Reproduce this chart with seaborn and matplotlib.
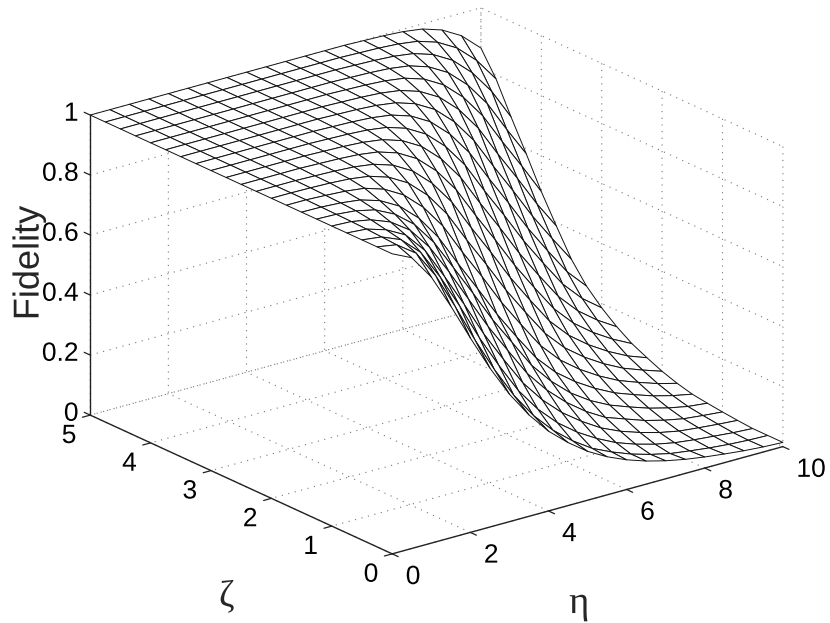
import matplotlib
matplotlib.use("Agg")
import matplotlib.pyplot as plt
import matplotlib.patheffects as pe
import numpy as np
import seaborn as sns

sns.set_style("white")
plt.rcParams["font.family"] = ["Liberation Sans", "DejaVu Sans"]
plt.rcParams["xtick.bottom"] = True
plt.rcParams["ytick.left"] = True

eta_values = [0, .5, 1, 1.5, 2, 2.5, 3, 3.5, 4, 4.5, 5, 5.5, 6, 6.5, 7, 7.5, 8, 8.5, 9, 9.5, 10]
zeta_values = [0, .25, .5, .75, 1, 1.25, 1.5, 1.75, 2, 2.25, 2.5, 2.75, 3, 3.25, 3.5, 3.75, 4, 4.25, 4.5, 4.75, 5]

# Fidelity along eta, one list per zeta
f_z000 = [1, .969, .887, .772, .648, .53, .425, .338, .266, .21, .163, .127, .099, .077, .06, .047, .037, .029, .022, .017, .014]
f_z025 = [1, .989, .943, .85, .729, .601, .484, .38, .295, .228, .175, .132, .102, .077, .058, .043, .034, .026, .02, .016, .014]
f_z050 = [1, .992, .965, .905, .805, .69, .567, .457, .355, .275, .212, .163, .124, .092, .069, .051, .038, .03, .024, .018, .014]
f_z075 = [1, .995, .975, .94, .87, .765, .655, .539, .437, .34, .265, .205, .158, .118, .089, .067, .049, .036, .029, .023, .018]
f_z100 = [1, .997, .985, .96, .915, .84, .74, .631, .522, .425, .33, .257, .198, .15, .112, .089, .066, .049, .036, .029, .023]
f_z125 = [1, .998, .992, .977, .945, .893, .815, .713, .61, .504, .41, .316, .245, .188, .145, .112, .088, .066, .049, .036, .029]
f_z150 = [1, .999, .995, .987, .967, .931, .873, .791, .686, .585, .481, .388, .3, .234, .185, .145, .112, .088, .066, .049, .036]
f_z175 = [1, 1, .997, .993, .985, .964, .927, .868, .788, .683, .584, .48, .388, .3, .234, .185, .145, .112, .088, .066, .049]
f_z200 = [1, 1, .999, .997, .993, .984, .963, .926, .867, .786, .682, .583, .48, .388, .3, .234, .185, .145, .112, .088, .066]
f_z225 = [1, 1, 1, .998, .996, .992, .983, .962, .925, .866, .786, .682, .583, .48, .388, .3, .234, .185, .145, .112, .088]
f_z250 = [1, 1, 1, 1, .998, .996, .992, .983, .962, .925, .866, .786, .682, .583, .48, .388, .3, .234, .185, .145, .112]
f_z275 = [1, 1, 1, 1, 1, .998, .996, .992, .983, .962, .925, .866, .786, .682, .583, .48, .388, .3, .234, .185, .145]
f_z300 = [1, 1, 1, 1, 1, 1, .998, .996, .992, .983, .962, .925, .866, .786, .682, .583, .48, .388, .3, .234, .185]
f_z325 = [1, 1, 1, 1, 1, 1, 1, .998, .996, .992, .983, .962, .925, .866, .786, .682, .583, .48, .388, .3, .234]
f_z350 = [1, 1, 1, 1, 1, 1, 1, 1, .998, .996, .992, .983, .962, .925, .866, .786, .682, .583, .48, .388, .3]
f_z375 = [1, 1, 1, 1, 1, 1, 1, 1, 1, .998, .996, .992, .983, .962, .925, .866, .786, .682, .583, .48, .388]
f_z400 = [1, 1, 1, 1, 1, 1, 1, 1, 1, 1, .998, .996, .992, .983, .962, .925, .866, .786, .682, .583, .48]
f_z425 = [1, 1, 1, 1, 1, 1, 1, 1, 1, 1, 1, .998, .996, .992, .983, .962, .925, .866, .786, .682, .583]
f_z450 = [1, 1, 1, 1, 1, 1, 1, 1, 1, 1, 1, 1, .998, .996, .992, .983, .962, .925, .866, .786, .682]
f_z475 = [1, 1, 1, 1, 1, 1, 1, 1, 1, 1, 1, 1, 1, .998, .996, .992, .983, .962, .925, .866, .786]
f_z500 = [1, 1, 1, 1, 1, 1, 1, 1, 1, 1, 1, 1, 1, 1, .998, .996, .992, .983, .962, .925, .866]

eta_ticks = [0, 2, 4, 6, 8, 10]
zeta_ticks = [0, 1, 2, 3, 4, 5]
fidelity_ticks = [0, .2, .4, .6, .8, 1]
eta_labels = ["0", "2", "4", "6", "8", "10"]
zeta_labels = ["0", "1", "2", "3", "4", "5"]
fidelity_labels = ["0", "0.2", "0.4", "0.6", "0.8", "1"]

Z = np.array([f_z000, f_z025, f_z050, f_z075, f_z100, f_z125, f_z150, f_z175, f_z200, f_z225, f_z250,
              f_z275, f_z300, f_z325, f_z350, f_z375, f_z400, f_z425, f_z450, f_z475, f_z500])
X, Y = np.meshgrid(eta_values, zeta_values)

W, H = 830, 623
S = 900
fig = plt.figure(figsize=(W / 100, H / 100), dpi=100, facecolor="white")
ax = fig.add_axes([-25.6 / W, -120 / H, S / W, S / H], projection="3d", proj_type="ortho")
ax.patch.set_alpha(0)
ax.view_init(elev=20.8, azim=-127.7)
ax.set_box_aspect((1, 1, 0.65), zoom=0.829)
ax.plot_surface(X, Y, Z, rstride=1, cstride=1, color="white", edgecolor="#111111",
                linewidth=0.7, shade=False, antialiased=True)
ax.set_xlim(0, 10, view_margin=0)
ax.set_ylim(0, 5, view_margin=0)
ax.set_zlim(0, 1, view_margin=0)
ax.set_xticks(eta_ticks, eta_labels)
ax.set_yticks(zeta_ticks, zeta_labels)
ax.set_zticks(fidelity_ticks, fidelity_labels)
ax.tick_params(labelsize=19, colors="black", pad=6)


def shift(dx, dy):
    # pixel offset of a text (dy downwards), converted to points
    return [pe.Stroke(offset=(dx * 0.72, -dy * 0.72))]


ax.zaxis._get_tickdir = lambda position: 1
for axis, dx, dy, out, ha in ((ax.xaxis, 1, -7, -0.25, "left"), (ax.yaxis, -5, -8, -0.25, "center"),
                              (ax.zaxis, 17, -12, 0.25, "right")):
    axis.set_pane_color((1, 1, 1, 0))
    axis.pane.set_edgecolor("none")
    axis.line.set_color("#222222")
    axis.line.set_linewidth(1.0)
    axis._axinfo["grid"].update(color="#777777", linestyle=(0, (1, 5)), linewidth=0.8)
    axis._axinfo["tick"].update(inward_factor=0, outward_factor=out, linewidth={True: 0.9, False: 0.9})
    for tick in axis.get_major_ticks():
        tick.tick1line.set_visible(True)
        tick.tick1line.set_color("#222222")
        tick.label1.set_path_effects(shift(dx, dy))
        tick.label1.set_ha(ha)
ax.grid(True)
ax.zaxis.set_rotate_label(False)
ax.set_xlabel("η", family="Liberation Serif", fontsize=28, labelpad=20)
ax.set_ylabel("ζ", family="Liberation Serif", fontsize=27, labelpad=20)
ax.set_zlabel("Fidelity", fontsize=26, rotation=90, labelpad=20)
ax.xaxis.label.set_path_effects(shift(-45, 50))
ax.yaxis.label.set_path_effects(shift(33, 63))
ax.zaxis.label.set_path_effects(shift(23, 2))
fig.savefig("out.png", dpi=100)
